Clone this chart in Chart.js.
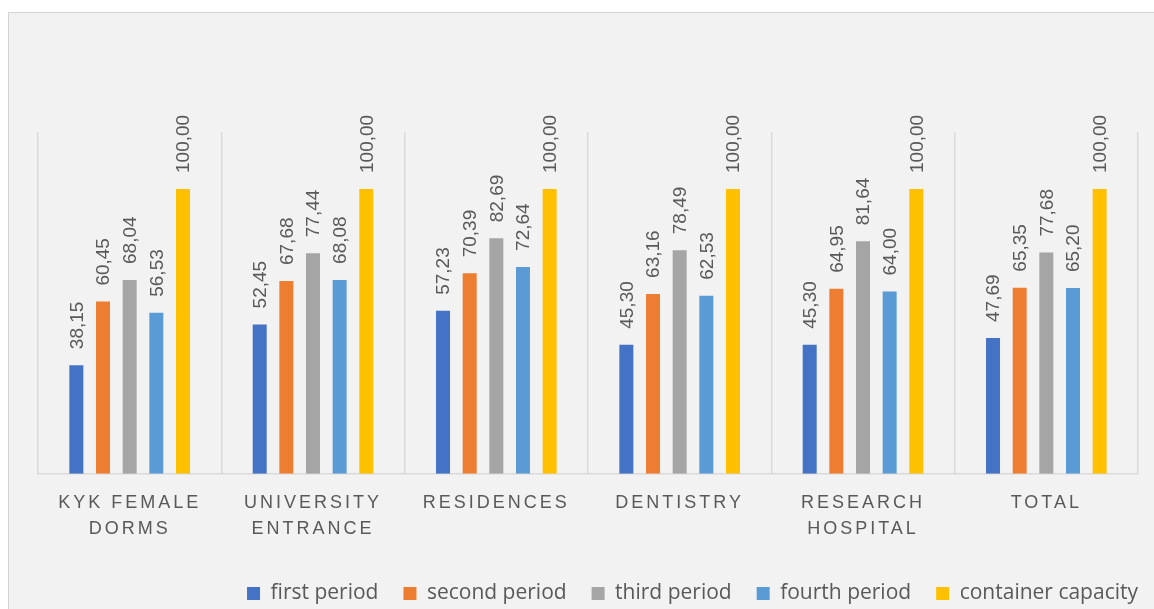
<!DOCTYPE html>
<html>
<head>
<meta charset="utf-8">
<script src="https://cdn.jsdelivr.net/npm/chart.js@4"></script>
<style>
  html, body { margin: 0; padding: 0; background: #ffffff; overflow: hidden; }
  #box {
    position: absolute; left: 8px; top: 12px;
    width: 1150px; height: 600px;
    background: #f2f2f2; border: 1px solid #d4d4d4;
  }
</style>
</head>
<body>
<div id="box"><canvas id="chart"></canvas></div>
<script>
const categories = [
  ['KYK FEMALE', 'DORMS'],
  ['UNIVERSITY', 'ENTRANCE'],
  'RESIDENCES',
  'DENTISTRY',
  ['RESEARCH', 'HOSPITAL'],
  'TOTAL'
];
const firstPeriod  = [38.15, 52.45, 57.23, 45.30, 45.30, 47.69];
const secondPeriod = [60.45, 67.68, 70.39, 63.16, 64.95, 65.35];
const thirdPeriod  = [68.04, 77.44, 82.69, 78.49, 81.64, 77.68];
const fourthPeriod = [56.53, 68.08, 72.64, 62.53, 64.00, 65.20];
const capacity     = [100, 100, 100, 100, 100, 100];

const textColor = '#595959';
const legendGap = 25;

// spaced-out category labels like the original
const spacedTicks = {
  id: 'spacedTicks',
  beforeDraw(chart) {
    const xs = chart.scales.x;
    if (xs._spaced) return;
    const orig = xs.drawLabels;
    xs.drawLabels = function(area) {
      const c = this.ctx;
      c.save();
      c.letterSpacing = '3px';
      orig.call(this, area);
      c.restore();
    };
    xs._spaced = true;
  }
};

// push the legend flush right (chart.js leaves the item padding after the last entry)
const legendShift = {
  id: 'legendShift',
  afterLayout(chart) {
    chart.legend.left += legendGap;
    chart.legend.right += legendGap;
  }
};

// vertical value labels above each bar
const valueLabels = {
  id: 'valueLabels',
  afterDatasetsDraw(chart) {
    const ctx = chart.ctx;
    ctx.save();
    ctx.font = '19px "Liberation Sans"';
    ctx.fillStyle = textColor;
    ctx.textAlign = 'left';
    ctx.textBaseline = 'middle';
    chart.data.datasets.forEach((ds, i) => {
      chart.getDatasetMeta(i).data.forEach((bar, j) => {
        const txt = ds.data[j].toFixed(2).replace('.', ',');
        ctx.save();
        ctx.translate(bar.x + 1, bar.y - 16);
        ctx.rotate(-Math.PI / 2);
        ctx.fillText(txt, 0, 0);
        ctx.restore();
      });
    });
    ctx.restore();
  }
};

new Chart(document.getElementById('chart'), {
  type: 'bar',
  data: {
    labels: categories,
    datasets: [
      { label: 'first period', data: firstPeriod, backgroundColor: '#4472c4' },
      { label: 'second period', data: secondPeriod, backgroundColor: '#ed7d31' },
      { label: 'third period', data: thirdPeriod, backgroundColor: '#a5a5a5' },
      { label: 'fourth period', data: fourthPeriod, backgroundColor: '#5b9bd5' },
      { label: 'container capacity', data: capacity, backgroundColor: '#ffc000' }
    ]
  },
  options: {
    responsive: true,
    maintainAspectRatio: false,
    animation: false,
    categoryPercentage: 0.727,
    barPercentage: 0.525,
    layout: { padding: { top: 119, left: 29, right: 21, bottom: -1 } },
    plugins: {
      tooltip: { enabled: false },
      legend: {
        position: 'bottom',
        align: 'end',
        labels: {
          color: textColor,
          font: { family: 'Open Sans', size: 21 },
          boxWidth: 13,
          boxHeight: 13,
          padding: legendGap
        }
      }
    },
    scales: {
      x: {
        grid: { display: true, offset: true, color: '#d9d9d9', lineWidth: 1.5, drawTicks: false },
        border: { color: '#d9d9d9', width: 1.5 },
        ticks: {
          color: textColor,
          font: { family: 'Liberation Sans', size: 18, lineHeight: 1.45 },
          padding: 16,
          maxRotation: 0,
          autoSkip: false
        }
      },
      y: {
        display: false,
        min: 0,
        max: 120
      }
    }
  },
  plugins: [spacedTicks, legendShift, valueLabels]
});
</script>
</body>
</html>
